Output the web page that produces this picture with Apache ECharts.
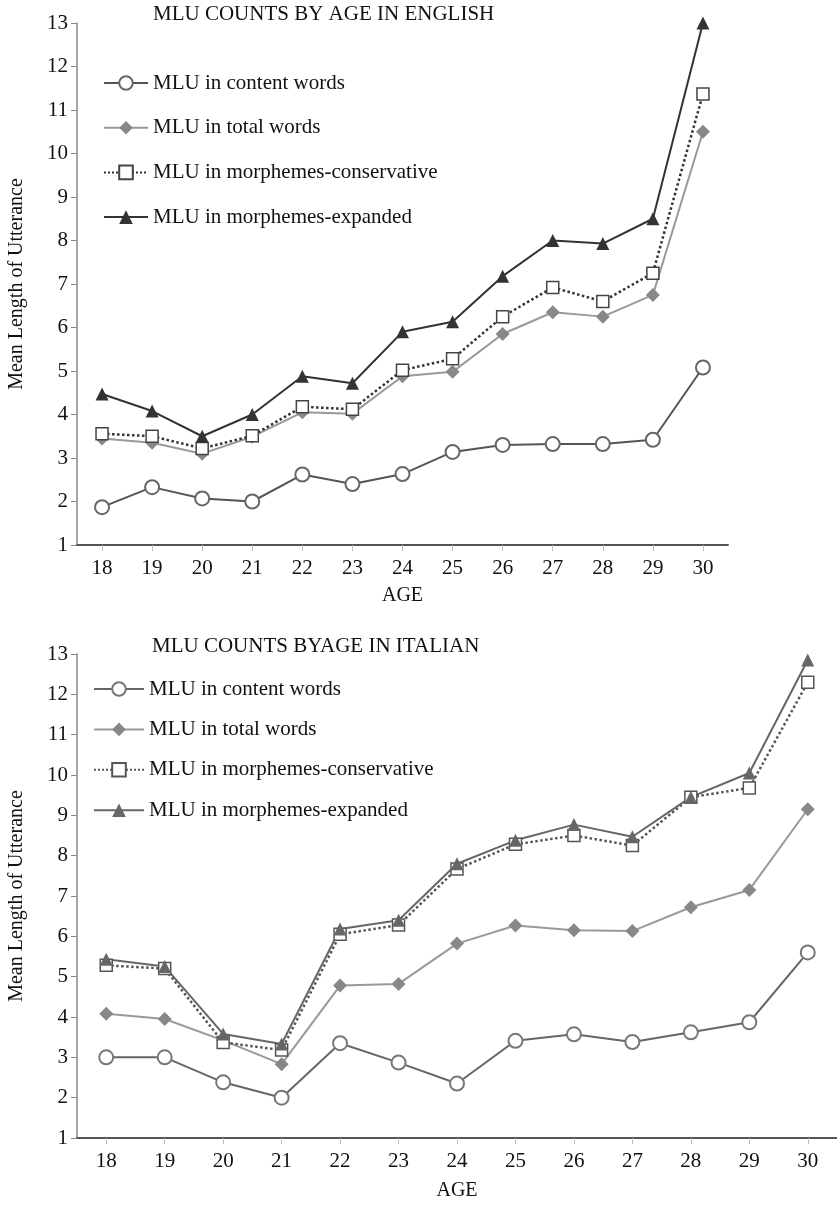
<!DOCTYPE html>
<html>
<head>
<meta charset="utf-8">
<script src="https://cdn.jsdelivr.net/npm/echarts@6/dist/echarts.min.js"></script>
<style>
  html, body { margin: 0; padding: 0; background: #fff; }
  #chart { width: 837px; height: 1205px; }
</style>
</head>
<body>
<div id="chart"></div>
<script>
const ages = ['18', '19', '20', '21', '22', '23', '24', '25', '26', '27', '28', '29', '30'];
const seriesNames = [
  'MLU in content words',
  'MLU in total words',
  'MLU in morphemes-conservative',
  'MLU in morphemes-expanded'
];

// English
const enContent = [1.87, 2.33, 2.07, 2.0, 2.62, 2.4, 2.63, 3.14, 3.3, 3.32, 3.32, 3.42, 5.08];
const enTotal = [3.45, 3.35, 3.1, 3.49, 4.05, 4.02, 4.88, 4.98, 5.85, 6.35, 6.25, 6.75, 10.5];
const enConservative = [3.56, 3.5, 3.22, 3.51, 4.18, 4.12, 5.02, 5.28, 6.25, 6.92, 6.6, 7.25, 11.37];
const enExpanded = [4.47, 4.08, 3.5, 4.0, 4.88, 4.72, 5.9, 6.13, 7.18, 8.0, 7.93, 8.5, 13.0];

// Italian
const itContent = [3.0, 3.0, 2.38, 2.0, 3.35, 2.87, 2.35, 3.41, 3.57, 3.38, 3.62, 3.87, 5.6];
const itTotal = [4.08, 3.95, 3.42, 2.83, 4.78, 4.82, 5.82, 6.27, 6.15, 6.13, 6.72, 7.15, 9.15];
const itConservative = [5.28, 5.2, 3.37, 3.18, 6.05, 6.28, 7.67, 8.28, 8.5, 8.25, 9.45, 9.68, 12.3];
const itExpanded = [5.43, 5.25, 3.58, 3.33, 6.18, 6.4, 7.8, 8.38, 8.77, 8.47, 9.45, 10.05, 12.85];

const FONT = '"Liberation Serif", "DejaVu Serif", serif';

const chart = echarts.init(document.getElementById('chart'));

const makeX = (gridIndex, nameGap) => ({
  type: 'category',
  gridIndex: gridIndex,
  data: ages,
  boundaryGap: true,
  name: 'AGE',
  nameLocation: 'middle',
  nameGap: nameGap,
  nameTextStyle: { color: '#111', fontSize: 20, fontFamily: FONT },
  axisLine: { lineStyle: { color: '#555', width: 2 } },
  axisTick: { show: true, alignWithLabel: true, length: 6, lineStyle: { color: '#bbb' } },
  axisLabel: { color: '#111', fontSize: 21, fontFamily: FONT, margin: 13 },
  splitLine: { show: false }
});

const makeY = (gridIndex, nameGap) => ({
  type: 'value',
  gridIndex: gridIndex,
  min: 1,
  max: 13,
  interval: 1,
  name: 'Mean Length of Utterance',
  nameLocation: 'middle',
  nameRotate: 90,
  nameGap: nameGap,
  nameTextStyle: { color: '#111', fontSize: 20, fontFamily: FONT },
  axisLine: { show: true, lineStyle: { color: '#888', width: 1.5 } },
  axisTick: { show: true, length: 6, lineStyle: { color: '#888' } },
  axisLabel: { color: '#111', fontSize: 21, fontFamily: FONT, margin: 9 },
  splitLine: { show: false }
});

const lineSeries = (prefix, idx, name, data, style) => ({
  name: prefix + '|' + name,
  type: 'line',
  xAxisIndex: idx,
  yAxisIndex: idx,
  data: data,
  symbol: style.symbol,
  symbolSize: style.size,
  showAllSymbol: true,
  lineStyle: { color: style.line, width: style.width || 2, type: style.type || 'solid' },
  itemStyle: { color: style.fill, borderColor: style.border, borderWidth: style.borderWidth || 0 },
  z: style.z || 2
});

const enStyles = [
  { symbol: 'circle', size: 14, line: '#555', fill: '#fff', border: '#666', borderWidth: 2, z: 4 },
  { symbol: 'diamond', size: 14, line: '#999', fill: '#888', border: '#888', z: 2 },
  { symbol: 'rect', size: 12, line: '#333', type: 'dotted', width: 2.5, fill: '#fff', border: '#444', borderWidth: 1.5, z: 3 },
  { symbol: 'triangle', size: 13, line: '#333', fill: '#333', border: '#333', z: 3 }
];
const itStyles = [
  { symbol: 'circle', size: 14, line: '#666', fill: '#fff', border: '#777', borderWidth: 2, z: 4 },
  { symbol: 'diamond', size: 14, line: '#999', fill: '#888', border: '#888', z: 2 },
  { symbol: 'rect', size: 12, line: '#555', type: 'dotted', width: 2.5, fill: '#fff', border: '#555', borderWidth: 1.5, z: 3 },
  { symbol: 'triangle', size: 13, line: '#666', fill: '#666', border: '#666', z: 3 }
];

const enData = [enContent, enTotal, enConservative, enExpanded];
const itData = [itContent, itTotal, itConservative, itExpanded];

const series = [];
seriesNames.forEach((n, i) => series.push(lineSeries('en', 0, n, enData[i], enStyles[i])));
seriesNames.forEach((n, i) => series.push(lineSeries('it', 1, n, itData[i], itStyles[i])));

const option = {
  backgroundColor: '#fff',
  animation: false,
  title: [
    {
      text: 'MLU COUNTS BY AGE IN ENGLISH',
      left: 153,
      top: 4,
      padding: 0,
      textStyle: { color: '#111', fontSize: 21, fontWeight: 'normal', fontFamily: FONT }
    },
    {
      text: 'MLU COUNTS BYAGE IN ITALIAN',
      left: 152,
      top: 636,
      padding: 0,
      textStyle: { color: '#111', fontSize: 21, fontWeight: 'normal', fontFamily: FONT }
    }
  ],
  legend: [
    {
      data: seriesNames.map(n => 'en|' + n),
      orient: 'vertical',
      left: 103,
      top: 72,
      padding: 0,
      itemWidth: 44,
      itemHeight: 17,
      itemGap: 22.7,
      formatter: name => name.split('|')[1],
      textStyle: { color: '#111', fontSize: 21, fontFamily: FONT, lineHeight: 22 }
    },
    {
      data: seriesNames.map(n => 'it|' + n),
      orient: 'vertical',
      left: 93,
      top: 678,
      padding: 0,
      itemWidth: 50,
      itemHeight: 17,
      itemGap: 18.4,
      formatter: name => name.split('|')[1],
      textStyle: { color: '#111', fontSize: 21, fontFamily: FONT, lineHeight: 22 }
    }
  ],
  grid: [
    { left: 77, top: 23, width: 651, height: 522, outerBoundsMode: 'none' },
    { left: 77, top: 654, width: 760, height: 484, outerBoundsMode: 'none' }
  ],
  xAxis: [makeX(0, 41), makeX(1, 43)],
  yAxis: [makeY(0, 50), makeY(1, 50)],
  series: series
};

chart.setOption(option);
</script>
</body>
</html>
